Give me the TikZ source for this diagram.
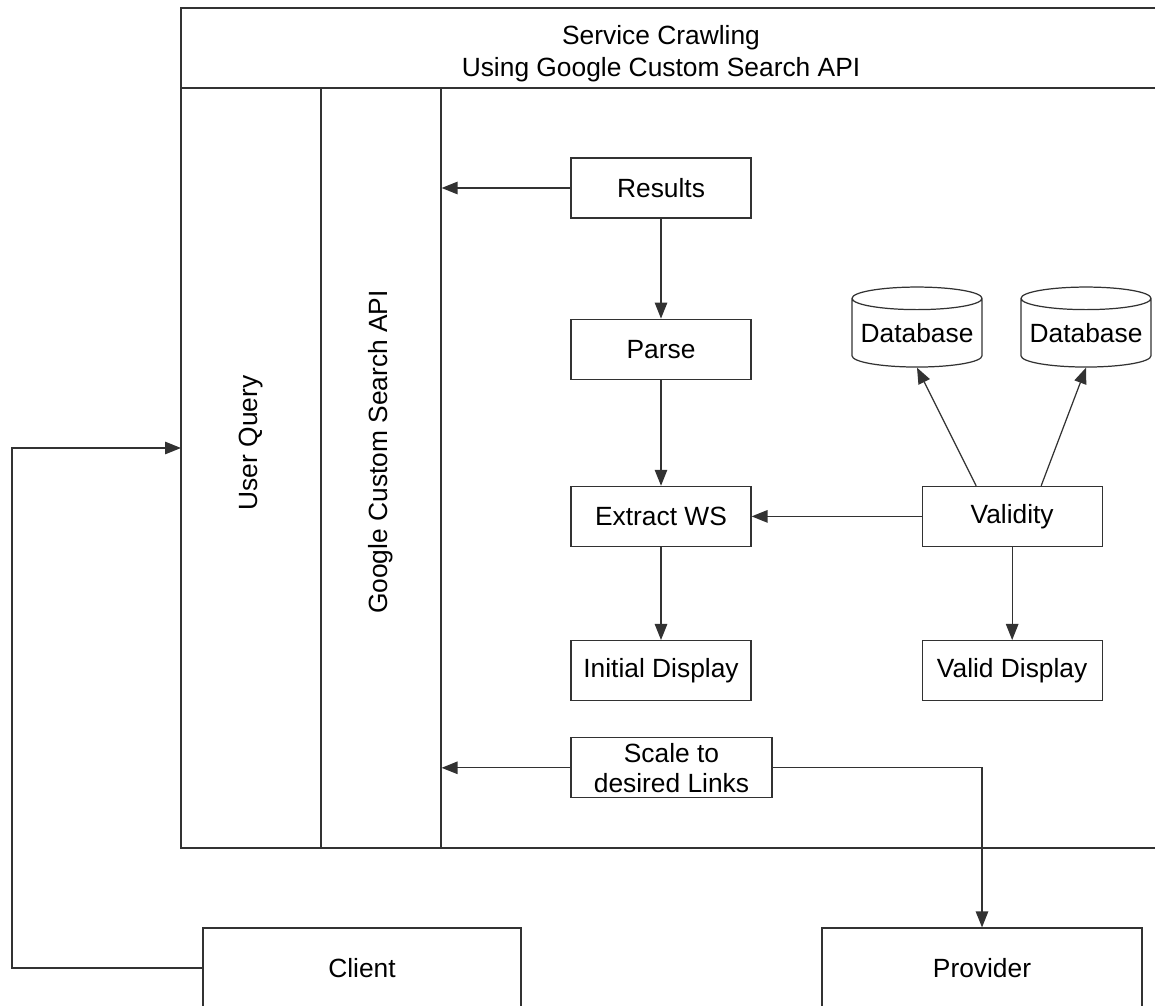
\documentclass[tikz,border=0pt]{standalone}
\usepackage{fontspec}
\setmainfont{Liberation Sans}
\usetikzlibrary{arrows.meta,shapes.geometric,positioning}
\definecolor{lineclr}{RGB}{50, 50, 50}

\begin{document}
\begin{tikzpicture}[
      x=0.02cm, y=-0.02cm,
      every node/.style={font=\fontsize{15}{18}\selectfont, text=black},
      lane/.style={rectangle, draw=lineclr, line width=0.7pt, minimum width=2.8cm, minimum height=15.2cm, inner sep=0pt},
      box/.style={rectangle, draw=lineclr, line width=0.7pt, align=center, minimum width=3.6cm, minimum height=1.2cm, inner sep=0pt},
      actor/.style={rectangle, draw=lineclr, line width=0.7pt, minimum width=6.36cm, minimum height=1.6cm},
      db/.style={cylinder, shape border rotate=90, draw=lineclr, line width=0.7pt, aspect=0.2, minimum width=2.6cm, minimum height=1.6cm, inner sep=0pt},
      arrow/.style={-{Triangle[length=0.32cm, width=0.25cm]}, line width=0.7pt, lineclr}
    ]
      \clip (0,0) rectangle (1155,1006);
      % pool frame with header
      \draw[lineclr, line width=0.7pt] (181,8) rectangle (1180,848);
      \draw[lineclr, line width=0.7pt] (181,88) -- (1180,88);
      \draw[lineclr, line width=1.4pt] (1022,88) -- (1042,88);
      \node[align=center] (head) at (661,54) {Service Crawling\\Using Google Custom Search API};

      \node[lane] (uq) at (251,468) {};
      \node[lane, minimum width=2.4cm] (api) at (381,468) {};
      \node[rotate=90] (uqtxt) at ([yshift=0.5cm]uq.center) {User Query};
      \node[rotate=90] (apitxt) at ([yshift=0.32cm]api.center) {Google Custom Search API};

      \node[box] (res) at (661,188) {Results};
      \node[box, below=2cm of res] (parse) {Parse};
      \node[box, below=2.12cm of parse] (ext) {Extract WS};
      \node[box, below=1.86cm of ext] (init) {Initial Display};
      \node[box, right=3.4cm of ext] (val) {Validity};
      \node[box, below=1.86cm of val] (vdisp) {Valid Display};
      \node[box, minimum width=4.02cm, below right=0.72cm and 0cm of init.south west] (scale) {Scale to\\[-1pt]desired Links};

      \node[db] (db1) at (917,333) {Database};
      \node[db] (db2) at (1086,333) {Database};

      \node[actor] (client) at (362,968) {Client};
      \node[actor, minimum width=6.4cm] (prov) at (982,968) {Provider};
      \coordinate (loop) at (12,448);
      \coordinate (uqin) at (181,448);

      \draw[arrow] (res.west) -- (res.west -| api.east);
      \draw[arrow] (res) -- (parse);
      \draw[arrow] (parse) -- (ext);
      \draw[arrow] (ext) -- (init);
      \draw[arrow] (val) -- (ext);
      \draw[arrow] (val) -- (vdisp);
      \draw[arrow] ([xshift=-0.72cm]val.north) -- (db1.south);
      \draw[arrow] ([xshift=0.58cm]val.north) -- (db2.south);
      \draw[arrow] (scale.west) -- (scale.west -| api.east);
      \draw[arrow] (scale.east) -| (prov.north);
      \draw[arrow] (client.west) -| (loop) -- (uqin);
    \end{tikzpicture}
\end{document}
